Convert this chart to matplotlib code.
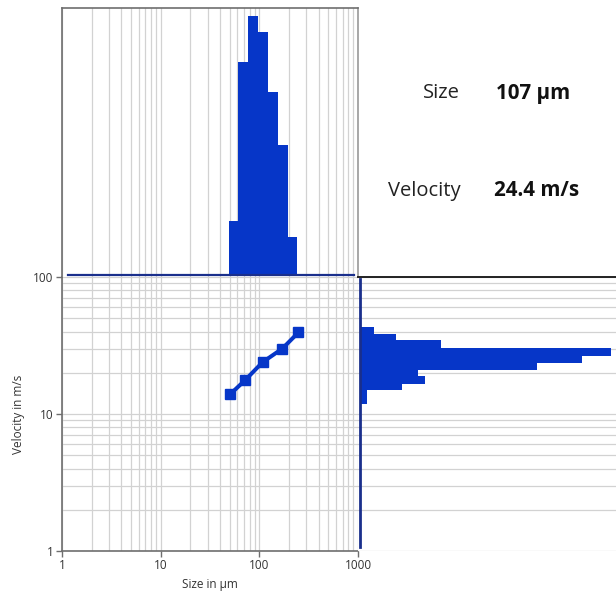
import matplotlib
matplotlib.use("Agg")
import matplotlib.pyplot as plt
from matplotlib.ticker import LogLocator, NullFormatter, FixedLocator, FixedFormatter

plt.rcParams['font.family'] = ['Open Sans', 'DejaVu Sans']

# Size / velocity correlation points.
size_um = [51, 72, 108, 171, 249]
velocity_ms = [14.0, 17.7, 23.9, 30.0, 39.4]

# Size distribution (top histogram), relative frequency in %.
size_edges = [1.15, 49.2, 60.6, 76.5, 97.5, 122, 154, 194, 242, 920]
size_freq = [0, 21.0, 82.4, 100, 94.0, 70.8, 50.2, 14.8, 0]

# Velocity distribution (right histogram), relative frequency in %.
vel_edges = [1.07, 11.8, 13.3, 14.9, 16.6, 18.9, 21.1, 23.6, 26.7, 30.4, 34.5, 38.5, 43.1, 96]
vel_freq = [0, 2.7, 2.7, 16.6, 25.8, 23.3, 70.7, 88.4, 100, 32.3, 14.4, 5.6, 0]

mean_size = "107 µm"
mean_velocity = "24.4 m/s"

BLUE = '#0636c8'
NAVY = '#1a2f8c'
GRID = '#d2d2d2'
SPINE = '#6e6e6e'

fig = plt.figure(figsize=(6.16, 5.97), dpi=100)
W, H = 616, 597

def box(x0, y0, x1, y1):
    return [x0 / W, 1 - y1 / H, (x1 - x0) / W, (y1 - y0) / H]

ax = fig.add_axes(box(62, 277, 358, 551))
ax_top = fig.add_axes(box(62, 8, 358, 277))
ax_right = fig.add_axes(box(358, 277, 616, 551))

# Main scatter plot
ax.set_xscale('log')
ax.set_yscale('log')
ax.set_xlim(1, 1000)
ax.set_ylim(1, 100)
ax.plot(size_um, velocity_ms, '-s', color=BLUE, lw=2.9, ms=7.8, zorder=3)
ax.grid(True, which='both', color=GRID, lw=0.9)
ax.set_axisbelow(True)
ax.xaxis.set_major_locator(FixedLocator([1, 10, 100, 1000]))
ax.xaxis.set_major_formatter(FixedFormatter(['1', '10', '100', '1000']))
ax.yaxis.set_major_locator(FixedLocator([1, 10, 100]))
ax.yaxis.set_major_formatter(FixedFormatter(['1', '10', '100']))
ax.xaxis.set_minor_locator(LogLocator(subs=range(2, 10)))
ax.yaxis.set_minor_locator(LogLocator(subs=range(2, 10)))
ax.xaxis.set_minor_formatter(NullFormatter())
ax.yaxis.set_minor_formatter(NullFormatter())
ax.tick_params(which='minor', length=0)
ax.tick_params(which='major', length=4, width=1, color=SPINE, labelsize=8.5, labelcolor='#333333', pad=2)
ax.set_xlabel("Size in µm", fontsize=8.5, color='#333333', labelpad=4)
ax.set_ylabel("Velocity in m/s", fontsize=8.5, color='#333333', labelpad=6)
for s in ['top', 'right']:
    ax.spines[s].set_visible(False)
for s in ['left', 'bottom']:
    ax.spines[s].set_color(SPINE)
    ax.spines[s].set_linewidth(1.2)

# Top histogram (size distribution)
ax_top.set_xscale('log')
ax_top.set_xlim(1, 1000)
ax_top.set_ylim(-0.8, 103.1)
ax_top.stairs(size_freq, size_edges, fill=True, color=BLUE, lw=0, zorder=3)
ax_top.plot([size_edges[0], size_edges[-1]], [0, 0], color=NAVY, lw=1.6, zorder=4)
ax_top.set_xticks([])
ax_top.set_yticks([])
ax_top.xaxis.set_minor_locator(LogLocator(subs=range(1, 10)))
ax_top.grid(True, axis='x', which='minor', color=GRID, lw=0.9)
ax_top.set_axisbelow(True)
ax_top.tick_params(which='both', length=0, labelbottom=False)
for s in ax_top.spines.values():
    s.set_color(SPINE)
    s.set_linewidth(1.2)
ax_top.spines['right'].set_color('#9a9a9a')
ax_top.spines['bottom'].set_visible(False)

# Right histogram (velocity distribution)
ax_right.set_yscale('log')
ax_right.set_ylim(1, 100)
ax_right.set_xlim(-0.8, 102.1)
ax_right.stairs(vel_freq, vel_edges, fill=True, orientation='horizontal', color=BLUE, lw=0, zorder=3)
ax_right.plot([0, 0], [vel_edges[0], vel_edges[-1]], color=NAVY, lw=2.0, zorder=4)
ax_right.yaxis.set_minor_locator(LogLocator(subs=range(1, 10)))
ax_right.yaxis.set_major_locator(LogLocator(subs=[1.0]))
ax_right.grid(True, axis='y', which='both', color=GRID, lw=0.9)
ax_right.set_axisbelow(True)
ax_right.set_xticks([])
ax_right.tick_params(which='both', length=0, labelleft=False)
for s in ['left', 'right', 'bottom']:
    ax_right.spines[s].set_visible(False)
ax_right.spines['top'].set_color('#222222')
ax_right.spines['top'].set_linewidth(1.4)

# Mean values
fig.text(460 / W, 1 - 98.5 / H, "Size", ha='right', va='baseline', fontsize=14.5, color='#222222')
fig.text(496 / W, 1 - 98.5 / H, mean_size, ha='left', va='baseline', fontsize=14.8, fontweight='bold', color='#111111')
fig.text(461 / W, 1 - 196.5 / H, "Velocity", ha='right', va='baseline', fontsize=14.5, color='#222222')
fig.text(494 / W, 1 - 196.5 / H, mean_velocity, ha='left', va='baseline', fontsize=14.8, fontweight='bold', color='#111111')

fig.savefig("out.png", dpi=100)
